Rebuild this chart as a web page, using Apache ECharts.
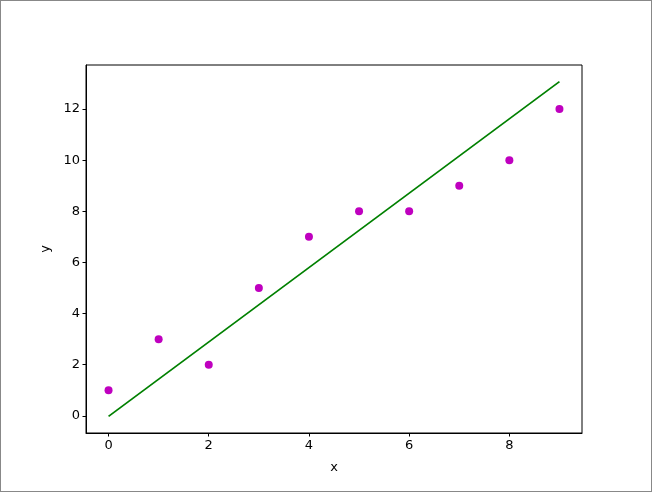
<!DOCTYPE html>
<html>
<head>
<meta charset="utf-8">
<script src="https://cdn.jsdelivr.net/npm/echarts@6/dist/echarts.min.js"></script>
<style>
html,body{margin:0;padding:0;background:#fff;}
#c{width:650px;height:490px;border:1px solid #888;}
</style>
</head>
<body>
<div id="c"></div>
<script>
const pointsX = [0, 1, 2, 3, 4, 5, 6, 7, 8, 9];
const pointsY = [1, 3, 2, 5, 7, 8, 8, 9, 10, 12];
const lineX = [0, 9];
const lineY = [-0.02, 13.07];
const xTicks = [0, 2, 4, 6, 8];
const yTicks = [0, 2, 4, 6, 8, 10, 12];

const font = 'DejaVu Sans';
const chart = echarts.init(document.getElementById('c'), null, {renderer: 'canvas'});
const axisCommon = {
  type: 'value',
  splitLine: {show: false},
  axisLine: {show: true, onZero: false, lineStyle: {color: '#000', width: 1}},
  axisTick: {show: true, length: 3.5, inside: false, lineStyle: {color: '#000', width: 1}},
  axisLabel: {color: '#000', fontFamily: font, fontSize: 13, margin: 6},
  nameLocation: 'middle',
  nameTextStyle: {color: '#000', fontFamily: font, fontSize: 13}
};
chart.setOption({
  animation: false,
  grid: {left: 85, right: 69, top: 64, bottom: 58, show: true, borderColor: '#000', borderWidth: 1, containLabel: false},
  xAxis: Object.assign({}, axisCommon, {
    min: -0.45, max: 9.45, name: 'x', nameGap: 28,
    axisTick: Object.assign({}, axisCommon.axisTick, {customValues: xTicks}),
    axisLabel: Object.assign({}, axisCommon.axisLabel, {customValues: xTicks})
  }),
  yAxis: Object.assign({}, axisCommon, {
    min: -0.67, max: 13.72, name: 'y', nameGap: 33,
    axisTick: Object.assign({}, axisCommon.axisTick, {customValues: yTicks}),
    axisLabel: Object.assign({}, axisCommon.axisLabel, {customValues: yTicks})
  }),
  series: [
    {
      type: 'scatter',
      data: pointsX.map((x, i) => [x, pointsY[i]]),
      symbolSize: 8,
      itemStyle: {color: '#bf00bf', opacity: 1},
      z: 3
    },
    {
      type: 'line',
      data: lineX.map((x, i) => [x, lineY[i]]),
      symbol: 'none',
      lineStyle: {color: '#008000', width: 1.8},
      z: 2
    }
  ]
});
</script>
</body>
</html>
